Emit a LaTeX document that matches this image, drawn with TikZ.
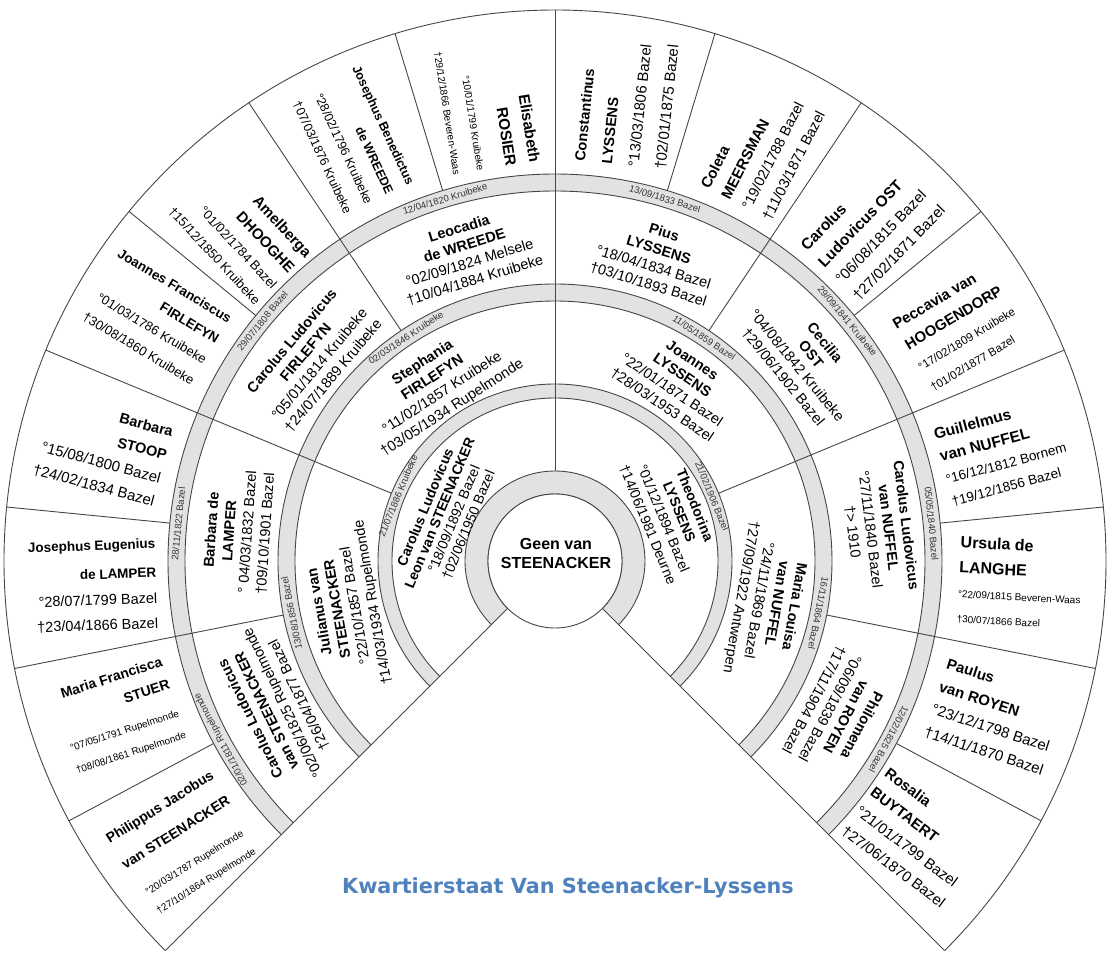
\documentclass[tikz,border=0pt]{standalone}
\usepackage{fontspec}
\setmainfont{Liberation Sans}
\newfontfamily\titlefont{DejaVu Sans}
\definecolor{bandgray}{RGB}{226,226,226}
\definecolor{linegray}{RGB}{70,70,70}
\definecolor{titleblue}{RGB}{79,129,189}
\newcommand\fs[2]{\fontsize{#1}{#2}\selectfont}
\newcommand\Nm[2]{{\fontsize{#1}{#1}\selectfont\bfseries #2}}
\newcommand\Dt[2]{{\fontsize{#1}{#1}\selectfont #2}}
\newcommand\bandring[2]{%
  \fill[bandgray] (225:#1) arc[start angle=225,end angle=-45,radius=#1]
    -- (-45:#2) arc[start angle=-45,end angle=225,radius=#2] -- cycle;
  \draw[fanline] (225:#1) arc[start angle=225,end angle=-45,radius=#1];
  \draw[fanline] (225:#2) arc[start angle=225,end angle=-45,radius=#2];}
\newcommand\radial[3]{\draw[fanline] (#1:#2) -- (#1:#3);}
\tikzset{
  fanline/.style={draw=linegray, line width=0.9pt},
  pp/.style={inner sep=0pt, text=black},
  ginner/.style={pp, align=center, font=\fs{14.5}{18}},
  gfour/.style={pp},
  bt/.style={inner sep=0pt, font=\fs{9.5}{10}, text=black!80},
}
\begin{document}
\begin{tikzpicture}[x=1pt,y=1pt]
\useasboundingbox (-555,-395) rectangle (558,561);
% bands
\bandring{67}{90}
\bandring{163}{177}
\bandring{260}{277}
\bandring{370}{387}
% outer arc
\draw[fanline] (225:551) arc[start angle=225,end angle=-45,radius=551];
% centre circle
\draw[fanline, fill=white] (0,0) circle[radius=67];
% gap lines
\radial{225}{67}{551}
\radial{-45}{67}{551}
% generation 1 boundary
\radial{90}{90}{551}
% generation 2 boundaries
\radial{157.5}{177}{551}
\radial{22.5}{177}{551}
% generation 3 boundaries
\foreach \a in {191.25,123.75,56.25,-11.25} {\radial{\a}{277}{551}}
% generation 4 boundaries
\foreach \a in {208.125,174.375,140.625,106.875,73.125,39.375,5.625,-28.125} {\radial{\a}{387}{551}}

% centre
\node[pp, align=center, font=\fs{16}{19}\bfseries] (root) at (1,8) {Geen van\\STEENACKER};

% generation 1
\node[ginner, rotate=67.5, font=\fs{14}{15.5}] (leon) at (157.5:117) {\textbf{Carolus Ludovicus}\\\textbf{Leon van STEENACKER}\\°18/09/1892 Bazel\\†02/06/1950 Bazel};
\node[ginner, rotate=-67.5, font=\fs{14}{17}] (theo) at (21.5:125) {\textbf{Theodorina}\\\textbf{LYSSENS}\\°01/12/1894 Bazel\\†14/06/1981 Deurne};

% generation 2
\node[ginner, rotate=100] (julianus) at (192.5:213) {\textbf{Julianus van}\\\textbf{STEENACKER}\\°22/10/1857 Bazel\\†14/03/1934 Rupelmonde};
\node[ginner, rotate=33] (stephania) at (123.8:211) {\textbf{Stephania}\\\textbf{FIRLEFYN}\\°11/02/1857 Kruibeke\\†03/05/1934 Rupelmonde};
\node[ginner, rotate=-34] (joannes) at (55.6:216) {\textbf{Joannes}\\\textbf{LYSSENS}\\°22/01/1871 Bazel\\†28/03/1953 Bazel};
\node[ginner, rotate=-100] (marialouisa) at (-10.9:216) {\textbf{Maria Louisa}\\\textbf{van NUFFEL}\\°24/11/1869 Bazel\\†27/09/1922 Antwerpen};

% generation 3
\node[ginner, rotate=116] (clsteen) at (207.5:316) {\textbf{Carolus Ludovicus}\\\textbf{van STEENACKER}\\°02/06/1825 Rupelmonde\\†26/04/1877 Bazel};
\node[ginner, rotate=86] (barbara) at (174.7:318) {\textbf{Barbara de}\\\textbf{LAMPER}\\° 04/03/1832 Bazel\\†09/10/1901 Bazel};
\node[ginner, rotate=50] (clfirl) at (140.1:316) {\textbf{Carolus Ludovicus}\\\textbf{FIRLEFYN}\\°05/01/1814 Kruibeke\\†24/07/1889 Kruibeke};
\node[ginner, rotate=17] (leocadia) at (106:319) {\textbf{Leocadia}\\\textbf{de WREEDE}\\°02/09/1824 Melsele\\†10/04/1884 Kruibeke};
\node[ginner, rotate=-17] (pius) at (71.5:319) {\textbf{Pius}\\\textbf{LYSSENS}\\°18/04/1834 Bazel\\†03/10/1893 Bazel};
\node[ginner, rotate=-50.6] (cecilia) at (38.9:320) {\textbf{Cecilia}\\\textbf{OST}\\°04/08/1842 Kruibeke\\†29/06/1902 Bazel};
\node[ginner, rotate=-83] (clnuffel) at (5.7:326) {\textbf{Carolus Ludovicus}\\\textbf{van NUFFEL}\\°27/11/1840 Bazel\\†> 1910};
\node[ginner, rotate=-118] (philomena) at (-28.2:321) {\textbf{Philomena}\\\textbf{van ROYEN}\\°06/09/1839 Bazel\\†17/11/1904 Bazel};

% generation 4 (left side, right aligned)
\node[gfour, align=center, rotate=32, font=\fs{14}{22}] (philippus) at (-372,-283)
  {\Nm{14}{Philippus Jacobus}\\[8pt]\Nm{14}{van STEENACKER}\\[12pt]\Dt{10}{°20/03/1787 Rupelmonde}\\\Dt{10}{†27/10/1864 Rupelmonde}};
\node[gfour, align=right, rotate=18, font=\fs{14}{23}] (mariafr) at (-436,-155)
  {\Nm{14}{Maria Francisca}\\[1pt]\Nm{14}{STUER}\\[6pt]\Dt{10}{°07/05/1791 Rupelmonde}\\\Dt{10}{†08/08/1861 Rupelmonde}};
\node[gfour, align=right, rotate=2, font=\fs{14}{25}] (joseug) at (-462,-25)
  {\Nm{13.5}{Josephus Eugenius}\\[4pt]\Nm{13.5}{de LAMPER}\\[1pt]\Dt{14.5}{°28/07/1799 Bazel}\\\Dt{14.5}{†23/04/1866 Bazel}};
\node[gfour, align=right, rotate=-15, font=\fs{15}{24}] (barbstoop) at (-452,110)
  {\Nm{14.5}{Barbara}\\\Nm{14.5}{STOOP}\\\Dt{15}{°15/08/1800 Bazel}\\\Dt{15}{†24/02/1834 Bazel}};
\node[gfour, align=right, rotate=-31, font=\fs{14}{24}] (joanfr) at (-399,244)
  {\Nm{13.5}{Joannes Franciscus}\\\Nm{13.5}{FIRLEFYN}\\\Dt{13}{°01/03/1786 Kruibeke}\\\Dt{13}{†30/08/1860 Kruibeke}};
\node[gfour, align=right, rotate=-47, font=\fs{14}{23}] (amelberga) at (-315,329)
  {\Nm{15}{Amelberga}\\\Nm{15}{DHOOGHE}\\\Dt{13}{°01/02/1784 Bazel}\\\Dt{13}{†15/12/1850 Kruibeke}};
\node[gfour, align=right, rotate=-65, font=\fs{13}{23}] (josben) at (-203,421)
  {\Nm{12.5}{Josephus Benedictus}\\\Nm{12.5}{de WREEDE}\\\Dt{12.5}{°28/02/1796 Kruibeke}\\\Dt{12.5}{†07/03/1876 Kruibeke}};
\node[gfour, align=right, rotate=-81, font=\fs{14}{24}] (elisabeth) at (-68,454)
  {\Nm{15.5}{Elisabeth}\\[0pt]\Nm{15.5}{ROSIER}\\[5pt]\Dt{10}{°10/01/1799 Kruibeke}\\\Dt{10}{†29/12/1866 Beveren-Waas}};
% generation 4 (right side, left aligned)
\node[gfour, align=left, rotate=84, font=\fs{15}{27}] (constantinus) at (72,458)
  {\Nm{14.5}{Constantinus}\\\Nm{14.5}{LYSSENS}\\\Dt{15}{°13/03/1806 Bazel}\\\Dt{15}{†02/01/1875 Bazel}};
\node[gfour, align=left, rotate=63, font=\fs{15}{23}] (coleta) at (208,411)
  {\Nm{15}{Coleta}\\\Nm{15}{MEERSMAN}\\\Dt{14.5}{°19/02/1788 Bazel}\\\Dt{14.5}{†11/03/1871 Bazel}};
\node[gfour, align=left, rotate=46, font=\fs{15}{24}] (clost) at (318,333)
  {\Nm{15.5}{Carolus}\\\Nm{15.5}{Ludovicus OST}\\\Dt{15}{°06/08/1815 Bazel}\\\Dt{15}{†27/02/1871 Bazel}};
\node[gfour, align=left, rotate=31, font=\fs{15}{24}] (peccavia) at (405,233)
  {\Nm{15}{Peccavia van}\\\Nm{15}{HOOGENDORP}\\\Dt{11.5}{°17/02/1809 Kruibeke}\\\Dt{11.5}{†01/02/1877 Bazel}};
\node[gfour, align=left, rotate=15, font=\fs{15}{23}] (guillelmus) at (448,109)
  {\Nm{15.5}{Guillelmus}\\\Nm{15.5}{van NUFFEL}\\\Dt{13.5}{°16/12/1812 Bornem}\\\Dt{13.5}{†19/12/1856 Bazel}};
\node[gfour, align=left, rotate=-3, font=\fs{15}{25}] (ursula) at (465,-22)
  {\Nm{16}{Ursula de}\\\Nm{16}{LANGHE}\\\Dt{10}{°22/09/1815 Beveren-Waas}\\\Dt{10}{†30/07/1866 Bazel}};
\node[gfour, align=left, rotate=-18, font=\fs{15}{24}] (paulus) at (440,-156)
  {\Nm{15}{Paulus}\\\Nm{15}{van ROYEN}\\\Dt{15}{°23/12/1798 Bazel}\\\Dt{15}{†14/11/1870 Bazel}};
\node[gfour, align=left, rotate=-37, font=\fs{15}{24}] (rosalia) at (360,-277)
  {\Nm{15}{Rosalia}\\\Nm{15}{BUYTAERT}\\\Dt{15}{°21/01/1799 Bazel}\\\Dt{15}{†27/06/1870 Bazel}};

% marriage dates in bands
\node[bt, rotate=67.5] (m1a) at (157.5:170) {21/07/1886 Kruibeke};
\node[bt, rotate=-67.5] (m1b) at (22.5:170) {21/02/1906 Bazel};
\node[bt, rotate=101.25] (m2a) at (191.25:268.5) {13/08/1856 Bazel};
\node[bt, rotate=33.75] (m2b) at (123.75:268.5) {02/03/1846 Kruibeke};
\node[bt, rotate=-33.75] (m2c) at (56.25:268.5) {11/05/1859 Bazel};
\node[bt, rotate=-101.25] (m2d) at (-11.25:268.5) {16/11/1864 Bazel};
\node[bt, rotate=118.125] (m3a) at (208.125:378.5) {02/01/1811 Rupelmonde};
\node[bt, rotate=84.375] (m3b) at (174.375:378.5) {28/11/1822 Bazel};
\node[bt, rotate=50.625] (m3c) at (140.625:378.5) {29/07/1808 Bazel};
\node[bt, rotate=16.875] (m3d) at (106.875:378.5) {12/04/1820 Kruibeke};
\node[bt, rotate=-16.875] (m3e) at (73.125:378.5) {13/09/1833 Bazel};
\node[bt, rotate=-50.625] (m3f) at (39.375:378.5) {29/09/1841 Kruibeke};
\node[bt, rotate=-84.375] (m3g) at (5.625:378.5) {05/05/1840 Bazel};
\node[bt, rotate=-118.125] (m3h) at (-28.125:378.5) {12/02/1825 Bazel};

% title
\node[inner sep=0pt, text=titleblue, font=\titlefont\bfseries\fs{20.8}{24}] (title) at (13,-327) {Kwartierstaat Van Steenacker-Lyssens};
\end{tikzpicture}
\end{document}
